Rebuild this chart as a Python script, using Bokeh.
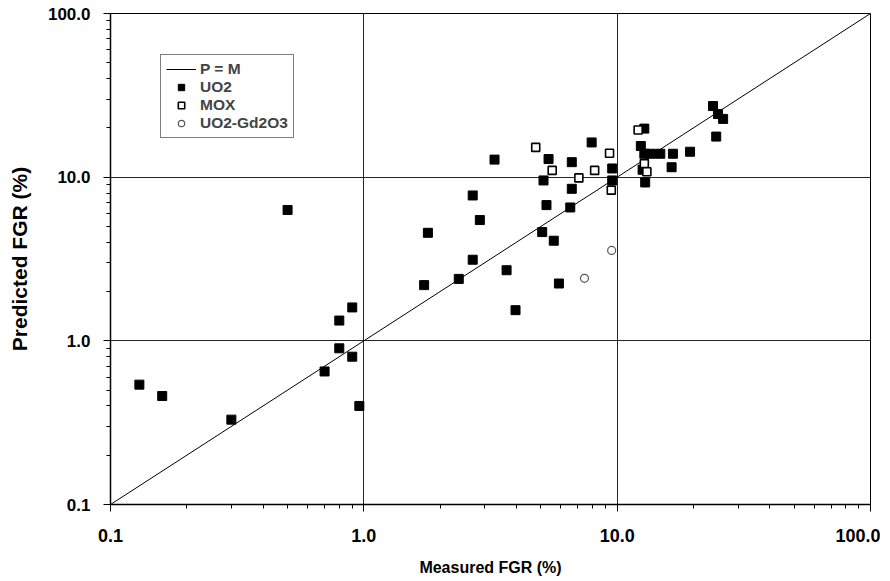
from bokeh.plotting import figure
from bokeh.models import FixedTicker, CustomJSTickFormatter, Legend, LegendItem, Range1d
from bokeh.embed import file_html
from bokeh.resources import INLINE

# ---- data ----
uo2_x = [0.13, 0.16, 0.30, 0.50, 0.70, 0.80, 0.80, 0.90, 0.90, 0.96,
         1.73, 1.79, 2.37, 2.69, 2.69, 2.87, 3.28, 3.66, 3.97, 5.06,
         5.12, 5.26, 5.36, 5.62, 5.89, 6.53, 6.62, 6.62, 7.93, 9.56,
         9.56, 12.4, 12.6, 12.8, 12.8, 12.9, 13.6, 14.8, 16.4, 16.6,
         19.4, 23.9, 24.6, 25.0, 26.2]
uo2_y = [0.54, 0.46, 0.33, 6.3, 0.65, 1.33, 0.90, 1.60, 0.80, 0.40,
         2.19, 4.57, 2.39, 7.73, 3.13, 5.47, 12.8, 2.70, 1.54, 4.62,
         9.55, 6.75, 12.9, 4.09, 2.24, 6.53, 8.49, 12.35, 16.3, 11.3,
         9.55, 15.5, 11.1, 19.8, 13.9, 9.28, 13.9, 13.9, 11.5, 13.9,
         14.3, 27.2, 17.7, 24.3, 22.7]
mox_x = [4.77, 5.54, 7.06, 8.15, 9.33, 9.48, 12.1, 12.8, 13.1]
mox_y = [15.2, 11.0, 9.9, 11.0, 14.0, 8.33, 19.4, 12.1, 10.8]
gd_x = [7.43, 9.51]
gd_y = [2.41, 3.57]
pm_line = [0.1, 100.0]
major_ticks = [0.1, 1.0, 10.0, 100.0]
minor_ticks = [m * d for d in [0.1, 1.0, 10.0] for m in range(2, 10)]

FONT = "Liberation Sans"

p = figure(width=880, height=578, x_axis_type="log", y_axis_type="log",
           x_range=Range1d(0.1, 100), y_range=Range1d(0.1, 100),
           output_backend="svg", toolbar_location=None,
           min_border_left=110, min_border_top=13, min_border_right=10,
           min_border_bottom=73)
p.outline_line_color = "black"
p.outline_line_width = 1
p.background_fill_color = "white"
p.border_fill_color = "white"

for ax in (p.xaxis[0], p.yaxis[0]):
    ax.ticker = FixedTicker(ticks=major_ticks, minor_ticks=minor_ticks)
    ax.formatter = CustomJSTickFormatter(code="return tick.toFixed(1)")
    ax.axis_line_color = "black"
    ax.axis_line_width = 1.5
    ax.major_tick_line_color = "black"
    ax.minor_tick_line_color = "black"
    ax.major_tick_out = 7
    ax.major_tick_in = 0
    ax.minor_tick_out = 4
    ax.minor_tick_in = 0
    ax.major_label_text_font = FONT
    ax.major_label_text_font_style = "bold"
    ax.major_label_text_color = "black"
    ax.axis_label_text_font = FONT
    ax.axis_label_text_font_style = "bold"
    ax.axis_label_text_color = "black"

p.xaxis.major_label_text_font_size = "18px"
p.xaxis.axis_label_text_font_size = "16px"
p.yaxis.major_label_text_font_size = "17px"
p.yaxis.axis_label_text_font_size = "21px"

p.xaxis.axis_label = "Measured FGR (%)"
p.yaxis.axis_label = "Predicted FGR (%)"
p.xaxis.major_label_standoff = 17
p.xaxis.axis_label_standoff = 14
p.yaxis.major_label_standoff = 13
p.yaxis.axis_label_standoff = 14

for g in (p.xgrid[0], p.ygrid[0]):
    g.ticker = FixedTicker(ticks=major_ticks)
    g.grid_line_color = "black"
    g.grid_line_width = 1
    g.grid_line_alpha = 0.85

r_line = p.line(pm_line, pm_line, line_color="black", line_width=1)
r_uo2 = p.scatter(uo2_x, uo2_y, marker="square", size=9, fill_color="black",
                  line_color="black")
r_mox = p.scatter(mox_x, mox_y, marker="square", size=8, fill_color="white",
                  line_color="black", line_width=1.6)
r_gd = p.scatter(gd_x, gd_y, marker="circle", size=8, fill_color="white",
                 line_color="#555555", line_width=1.2)

legend = Legend(items=[
    LegendItem(label="P = M", renderers=[r_line]),
    LegendItem(label="UO2", renderers=[r_uo2]),
    LegendItem(label="MOX", renderers=[r_mox]),
    LegendItem(label="UO2-Gd2O3", renderers=[r_gd]),
], location=(50, 366))
legend.border_line_color = "black"
legend.border_line_width = 1.5
legend.background_fill_color = "white"
legend.label_text_font = FONT
legend.label_text_font_style = "bold"
legend.label_text_font_size = "15.5px"
legend.label_height = 16
legend.glyph_height = 16
legend.glyph_width = 30
legend.spacing = 0
legend.padding = 5
legend.margin = 0
legend.label_standoff = 4
p.add_layout(legend, "center")

open("out.html", "w").write(file_html(p, INLINE))
